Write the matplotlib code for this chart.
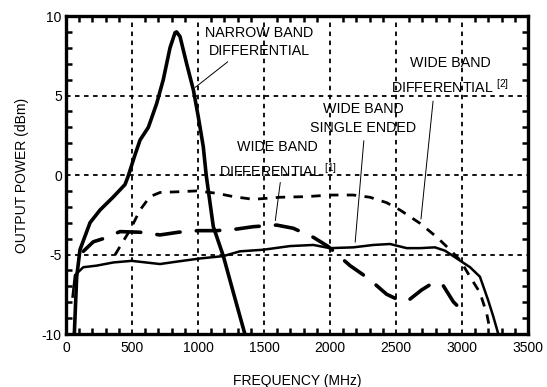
import matplotlib
matplotlib.use("Agg")
import matplotlib.pyplot as plt
from matplotlib.ticker import MultipleLocator

plt.rcParams['font.family'] = ['Liberation Sans', 'DejaVu Sans']
plt.rcParams['mathtext.fontset'] = 'custom'
plt.rcParams['mathtext.rm'] = 'Liberation Sans'

# Narrow band differential
nb_f = [63, 81, 106, 182, 258, 356, 447, 470, 520, 561, 624, 687, 737, 788, 826, 838, 864, 914, 965, 1002, 1040, 1062, 1116, 1192, 1268, 1355]
nb_p = [-10, -6.4, -4.7, -3.0, -2.2, -1.4, -0.6, -0.1, 1.2, 2.2, 3.0, 4.5, 6.0, 8.0, 8.95, 9.0, 8.7, 7.0, 5.35, 3.67, 1.78, 0.0, -3.25, -5.1, -7.4, -10]

# Wide band single ended
se_f = [50, 68, 131, 232, 359, 497, 712, 838, 1015, 1192, 1318, 1495, 1697, 1874, 2000, 2177, 2328, 2455, 2581, 2682, 2795, 2871, 2934, 2997, 3061, 3136, 3199, 3237, 3275]
se_p = [-7.65, -6.3, -5.8, -5.7, -5.5, -5.4, -5.6, -5.45, -5.25, -5.1, -4.8, -4.7, -4.47, -4.4, -4.6, -4.55, -4.4, -4.34, -4.6, -4.6, -4.55, -4.76, -5.1, -5.45, -5.8, -6.4, -7.9, -8.9, -10]

# Wide band differential [1]
d1_f = [131, 207, 283, 409, 561, 712, 851, 1002, 1142, 1293, 1419, 1596, 1722, 1874, 1987, 2152, 2290, 2429, 2505, 2581, 2694, 2758, 2846, 2934, 2997]
d1_p = [-4.8, -4.2, -4.0, -3.56, -3.6, -3.77, -3.6, -3.5, -3.5, -3.4, -3.25, -3.15, -3.35, -3.92, -4.5, -5.7, -6.5, -7.5, -7.8, -7.97, -7.23, -6.9, -6.8, -7.97, -8.5]

# Wide band differential [2]
d2_f = [371, 409, 485, 561, 636, 712, 864, 990, 1142, 1268, 1419, 1621, 1823, 2000, 2177, 2303, 2429, 2530, 2682, 2808, 2909, 2985, 3061, 3136, 3187, 3212]
d2_p = [-5.03, -4.5, -3.46, -2.2, -1.36, -1.1, -1.05, -1.0, -1.15, -1.36, -1.53, -1.4, -1.36, -1.26, -1.26, -1.4, -1.74, -2.2, -3.04, -3.9, -4.7, -5.35, -6.4, -7.4, -8.7, -9.75]

x_ticks = [0, 500, 1000, 1500, 2000, 2500, 3000, 3500]
y_ticks = [-10, -5, 0, 5, 10]

fig = plt.figure(figsize=(5.47, 3.87), dpi=100)
ax = fig.add_axes([66/547, 1-334/387, (528-66)/547, (334-16)/387])

ax.plot(nb_f, nb_p, color='black', lw=2.6, solid_capstyle='round', zorder=5)
ax.plot(se_f, se_p, color='black', lw=1.8, zorder=5)
ax.plot(d1_f, d1_p, color='black', lw=2.6, dashes=(6.5, 4.5), dash_capstyle='round', zorder=5)
ax.plot(d2_f, d2_p, color='black', lw=2.0, dashes=(3.4, 3.0), zorder=5)

ax.set_xlim(0, 3500)
ax.set_ylim(-10, 10)
ax.set_xticks(x_ticks)
ax.set_yticks(y_ticks)
ax.set_xticklabels([str(v) for v in x_ticks])
ax.set_yticklabels([str(v) for v in y_ticks])
ax.xaxis.set_minor_locator(MultipleLocator(100))
ax.yaxis.set_minor_locator(MultipleLocator(1))
ax.tick_params(which='both', direction='in', top=True, right=True, width=1.8, labelsize=10)
ax.tick_params(axis='x', which='major', length=0, pad=5)
ax.tick_params(axis='y', which='major', length=0, pad=3)
ax.tick_params(which='minor', length=4)
for s in ax.spines.values():
    s.set_linewidth(2.4)
ax.grid(True, which='major', color='black', lw=1.3, dashes=(2.5, 2.5))

ax.set_xlabel('FREQUENCY (MHz)', fontsize=10, labelpad=14)
ax.set_ylabel('OUTPUT POWER (dBm)', fontsize=10, labelpad=9)

fs = 10.3
ls = 1.4
ax.text(1462, 8.36, 'NARROW BAND\nDIFFERENTIAL', fontsize=fs, ha='center', va='center', linespacing=ls)
ax.annotate('', xy=(962, 5.4), xytext=(1242, 7.23), arrowprops=dict(arrowstyle='-', lw=0.7, color='black'))

ax.text(2250, 3.55, 'WIDE BAND\nSINGLE ENDED', fontsize=fs, ha='center', va='center', linespacing=ls)
ax.annotate('', xy=(2189, -4.4), xytext=(2258, 2.33), arrowprops=dict(arrowstyle='-', lw=0.7, color='black'))

ax.text(1600, 1.76, 'WIDE BAND', fontsize=fs, ha='center', va='center')
ax.text(1160, 0.25, r'DIFFERENTIAL $^{\mathregular{[1]}}$', fontsize=fs, ha='left', va='center')
ax.annotate('', xy=(1583, -3.04), xytext=(1626, -0.3), arrowprops=dict(arrowstyle='-', lw=0.7, color='black'))

ax.text(2910, 7.04, 'WIDE BAND', fontsize=fs, ha='center', va='center')
ax.text(2460, 5.55, r'DIFFERENTIAL $^{\mathregular{[2]}}$', fontsize=fs, ha='left', va='center')
ax.annotate('', xy=(2687, -2.94), xytext=(2783, 4.82), arrowprops=dict(arrowstyle='-', lw=0.7, color='black'))

fig.savefig('out.png', dpi=100)
